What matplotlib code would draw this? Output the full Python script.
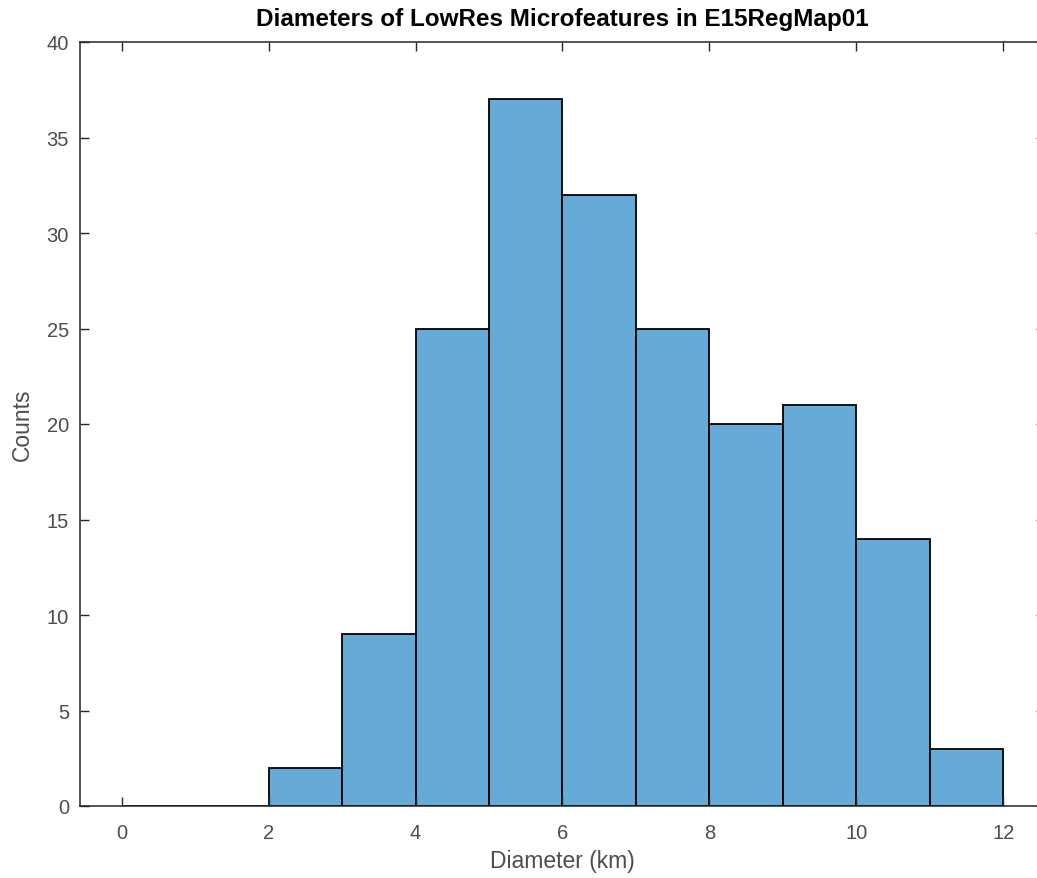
import numpy as np
import matplotlib
matplotlib.use('Agg')
import matplotlib.pyplot as plt

# histogram of microfeature diameters, bin edges in km
bin_edges = [0, 1, 2, 3, 4, 5, 6, 7, 8, 9, 10, 11, 12]
counts = [0, 0, 2, 9, 25, 37, 32, 25, 20, 21, 14, 3]
x_ticks = [0, 2, 4, 6, 8, 10, 12]
y_ticks = [0, 5, 10, 15, 20, 25, 30, 35, 40]

plt.rcParams['font.family'] = ['Liberation Sans', 'DejaVu Sans']

W, H = 1037, 879
fig = plt.figure(figsize=(W/100, H/100), dpi=100)
ax = fig.add_axes([80/W, (H-807)/H, (1045-80)/W, (807-43)/H])

left = np.array(bin_edges[:-1])
widths = np.diff(bin_edges)
ax.bar(left, counts, width=widths, align='edge', color='#66aad7',
       edgecolor='black', linewidth=1.3)

ax.set_xlim(-0.57, 12.57)
ax.set_ylim(0, 40)
ax.set_xticks(x_ticks)
ax.set_yticks(y_ticks)

axis_col = '#262626'
for s in ax.spines.values():
    s.set_color(axis_col)
    s.set_linewidth(1.1)
ax.tick_params(direction='in', length=6.5, width=1.0, colors=axis_col,
               top=True, right=True, labelsize=14.5)
ax.tick_params(axis='x', pad=12)
ax.tick_params(axis='y', pad=8)
for lab in ax.get_xticklabels() + ax.get_yticklabels():
    lab.set_color('#4d4d4d')

ax.set_title('Diameters of LowRes Microfeatures in E15RegMap01',
             fontsize=17.5, fontweight='bold', color='black', pad=12)
ax.set_xlabel('Diameter (km)', fontsize=16.5, color='#4d4d4d', labelpad=5)
ax.set_ylabel('Counts', fontsize=16.5, color='#4d4d4d', labelpad=9)

fig.savefig('out.png', dpi=100)
